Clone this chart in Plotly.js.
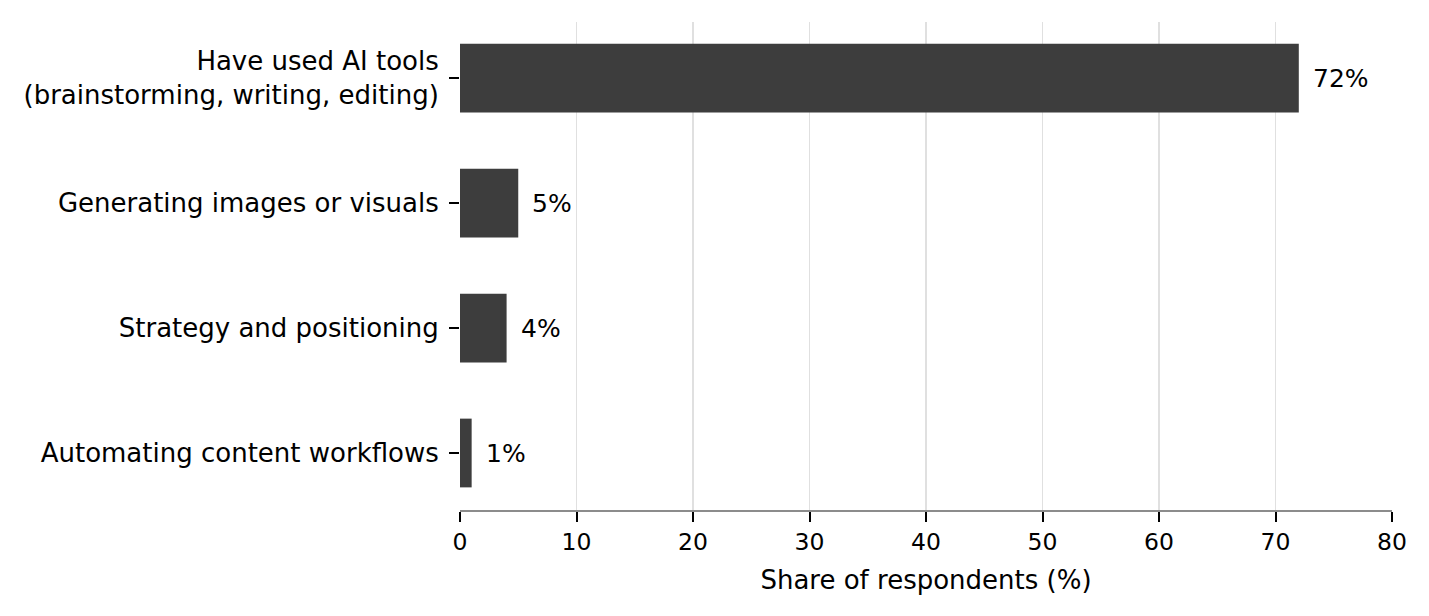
<!DOCTYPE html>
<html>
<head>
<meta charset="utf-8">
<script src="https://cdn.plot.ly/plotly-3.0.1.min.js"></script>
<style>html,body{margin:0;padding:0;background:#fff;}#chart{width:1429px;height:616px;}</style>
</head>
<body>
<div id="chart"></div>
<script>
const categories = [
  "Have used AI tools<br>(brainstorming, writing, editing)",
  "Generating images or visuals",
  "Strategy and positioning",
  "Automating content workflows"
];
const shares = [72, 5, 4, 1];
const valueLabels = ["72%", "5%", "4%", "1%"];
const xTicks = [0, 10, 20, 30, 40, 50, 60, 70, 80];

const FONT = "DejaVu Sans, sans-serif";

const trace = {
  type: "bar",
  orientation: "h",
  x: shares,
  y: categories,
  marker: {color: "#3d3d3d", line: {width: 0}},
  width: 0.55,
  hoverinfo: "skip"
};

const annotations = shares.map((v, i) => ({
  x: v, y: categories[i], xref: "x", yref: "y",
  text: valueLabels[i], showarrow: false,
  xanchor: "left", yanchor: "middle", xshift: 12,
  font: {family: FONT, size: 25, color: "#000"}
}));

const layout = {
  width: 1429, height: 616,
  margin: {l: 460, r: 37, t: 22, b: 106},
  paper_bgcolor: "#fff", plot_bgcolor: "#fff",
  showlegend: false,
  bargap: 0.45,
  font: {family: FONT, color: "#000"},
  xaxis: {
    range: [0, 80],
    tickvals: xTicks,
    ticktext: xTicks.map(String),
    showgrid: true, gridcolor: "#e0e0e0", gridwidth: 1.2,
    zeroline: false,
    showline: true, linecolor: "#8c8c8c", linewidth: 1.5,
    ticks: "outside", ticklen: 10, tickwidth: 2, tickcolor: "#000",
    tickfont: {family: FONT, size: 23.5, color: "#000"},
    title: {text: "Share of respondents (%)", font: {family: FONT, size: 26, color: "#000"}, standoff: 16}
  },
  yaxis: {
    type: "category",
    categoryorder: "array", categoryarray: categories,
    range: [3.456, -0.448],
    showgrid: false, zeroline: false, showline: false,
    ticks: "outside", ticklen: 10, tickwidth: 2, tickcolor: "#000",
    tickfont: {family: FONT, size: 26, color: "#000"},
    ticklabelstandoff: 5
  },
  annotations: annotations
};

Plotly.newPlot("chart", [trace], layout, {displayModeBar: false, staticPlot: true});
</script>
</body>
</html>
